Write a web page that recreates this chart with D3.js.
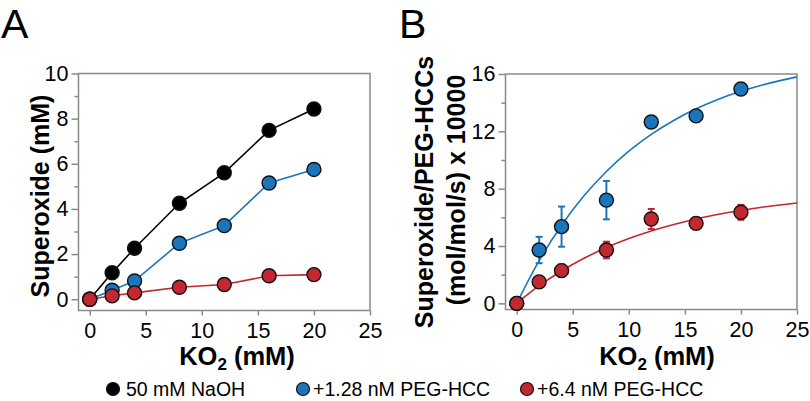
<!DOCTYPE html>
<html><head><meta charset="utf-8">
<script src="https://cdn.jsdelivr.net/npm/d3@7"></script>
<style>
html,body{margin:0;padding:0;background:#fff;}
svg{display:block;font-family:"Liberation Sans",Arial,Helvetica,sans-serif;}
</style></head><body>
<svg id="chart" width="810" height="401"></svg>
<script>
// ---- data ----
const xKO2 = [0, 2, 4, 8, 12, 16, 20];
const naohA = [0, 1.17, 2.26, 4.25, 5.6, 7.48, 8.43];
const peg128A = [0, 0.4, 0.81, 2.48, 3.26, 5.15, 5.75];
const peg64A = [0, 0.15, 0.28, 0.53, 0.65, 1.04, 1.09];
const peg128B = [0, 3.72, 5.35, 7.2, 12.65, 13.08, 14.95];
const peg128Err = [0, 0.92, 1.4, 1.34, 0.3, 0.3, 0.3];
const peg64B = [0, 1.5, 2.28, 3.72, 5.88, 5.58, 6.35];
const peg64Err = [0, 0.3, 0.43, 0.58, 0.7, 0.4, 0.52];
const fitX = [0, 2, 4, 6, 8, 10, 12, 14, 16, 18, 20, 22, 25];
const fit128 = [0, 2.98, 5.45, 7.50, 9.20, 10.62, 11.79, 12.76, 13.57, 14.24, 14.79, 15.25, 15.80];
const fit64 = [0, 1.23, 2.26, 3.14, 3.89, 4.52, 5.05, 5.50, 5.89, 6.21, 6.48, 6.72, 7.00];
const xTicks = [0, 5, 10, 15, 20, 25];
const yTicksA = [0, 2, 4, 6, 8, 10];
const yTicksB = [0, 4, 8, 12, 16];
const legendLabels = ["50 mM NaOH", "+1.28 nM PEG-HCC", "+6.4 nM PEG-HCC"];

const BLACK = "#000000", BLUE = "#1b75bb", RED = "#c3272f", GRAY = "#8a8a8a";

const svg = d3.select("#chart");

function panel(cfg) {
  const g = svg.append("g");
  const x = d3.scaleLinear().domain([-1, 25]).range([cfg.left, cfg.right]);
  const y = d3.scaleLinear().domain(cfg.yDomain).range([cfg.bottom, cfg.top]);

  g.append("rect").attr("x", cfg.left).attr("y", cfg.top)
    .attr("width", cfg.right - cfg.left).attr("height", cfg.bottom - cfg.top)
    .attr("fill", "none").attr("stroke", GRAY).attr("stroke-width", 1.5);

  const yAx = g.append("g").attr("transform", `translate(${cfg.left},0)`)
    .call(d3.axisLeft(y).tickValues(cfg.yTicks).tickSize(7).tickPadding(3).tickFormat(d3.format("d")));
  const minor = [];
  for (let i = 0; i < cfg.yTicks.length - 1; i++) minor.push((cfg.yTicks[i] + cfg.yTicks[i + 1]) / 2);
  g.append("g").attr("transform", `translate(${cfg.left},0)`)
    .call(d3.axisLeft(y).tickValues(minor).tickSize(4).tickFormat(""))
    .call(a => a.select(".domain").remove())
    .selectAll("line").attr("stroke", GRAY).attr("stroke-width", 1.5);

  const xAx = g.append("g").attr("transform", `translate(0,${cfg.bottom})`)
    .call(d3.axisBottom(x).tickValues(xTicks).tickSize(5).tickPadding(7).tickFormat(d3.format("d")));

  [yAx, xAx].forEach(a => {
    a.select(".domain").remove();
    a.selectAll("line").attr("stroke", GRAY).attr("stroke-width", 1.5);
    a.selectAll("text").attr("font-size", 21.5).attr("fill", "#000")
      .attr("font-family", '"Liberation Sans",Arial,sans-serif');
  });

  const xl = g.append("text").attr("x", cfg.xLabelX).attr("y", 365)
    .attr("text-anchor", "middle").attr("font-size", 25.5).attr("font-weight", "bold");
  xl.append("tspan").text("KO");
  xl.append("tspan").text("2").attr("font-size", 17).attr("dy", 5);
  xl.append("tspan").text(" (mM)").attr("dy", -5);

  g.append("text").attr("x", cfg.letterX).attr("y", 38).attr("font-size", 41).text(cfg.letter);

  return {g, x, y};
}

// ---------- Panel A ----------
const A = panel({left: 78.5, right: 370, top: 73.5, bottom: 310.5, yDomain: [-0.5, 10],
  yTicks: yTicksA, xLabelX: 237, letter: "A", letterX: 1});
A.g.append("text").attr("transform", "translate(49,196) rotate(-90)")
  .attr("text-anchor", "middle").attr("font-size", 25).attr("font-weight", "bold")
  .text("Superoxide (mM)");

const seriesA = [[naohA, BLACK], [peg128A, BLUE], [peg64A, RED]];
const lineGen = (sx, sy) => d3.line().x(d => sx(d[0])).y(d => sy(d[1]));
seriesA.forEach(([vals, col]) => {
  const pts = xKO2.map((xv, i) => [xv, vals[i]]);
  A.g.append("path").datum(pts).attr("d", lineGen(A.x, A.y))
    .attr("fill", "none").attr("stroke", col).attr("stroke-width", 1.6);
});
seriesA.forEach(([vals, col]) => {
  const pts = xKO2.map((xv, i) => [xv, vals[i]]);
  A.g.selectAll(null).data(pts).join("circle")
    .attr("cx", d => A.x(d[0])).attr("cy", d => A.y(d[1])).attr("r", 7)
    .attr("fill", col).attr("stroke", "#111").attr("stroke-width", 1.4);
});

// ---------- Panel B ----------
const B = panel({left: 505.5, right: 797, top: 74, bottom: 309.5, yDomain: [-0.43, 16],
  yTicks: yTicksB, xLabelX: 657, letter: "B", letterX: 399});
const bl = B.g.append("text").attr("transform", "rotate(-90)")
  .attr("text-anchor", "middle").attr("font-size", 25).attr("font-weight", "bold");
bl.append("tspan").attr("x", -192).attr("y", 433).text("Superoxide/PEG-HCCs");
bl.append("tspan").attr("x", -190).attr("y", 465).text("(mol/mol/s) x 10000");

const fitLine = d3.line().x(d => B.x(d[0])).y(d => B.y(d[1])).curve(d3.curveMonotoneX);
[[fit128, BLUE], [fit64, RED]].forEach(([vals, col]) => {
  B.g.append("path").datum(fitX.map((xv, i) => [xv, vals[i]])).attr("d", fitLine)
    .attr("fill", "none").attr("stroke", col).attr("stroke-width", 1.6);
});

const seriesB = [[peg128B, peg128Err, BLUE], [peg64B, peg64Err, RED]];
seriesB.forEach(([vals, errs, col]) => {
  const pts = xKO2.map((xv, i) => ({x: xv, y: vals[i], e: errs[i]})).filter(d => d.e > 0);
  const eg = B.g.append("g").attr("stroke", col).attr("stroke-width", 2);
  eg.selectAll(null).data(pts).join("line")
    .attr("x1", d => B.x(d.x)).attr("x2", d => B.x(d.x))
    .attr("y1", d => B.y(d.y - d.e)).attr("y2", d => B.y(d.y + d.e));
  eg.selectAll(null).data(pts.flatMap(d => [[d.x, d.y - d.e], [d.x, d.y + d.e]])).join("line")
    .attr("x1", d => B.x(d[0]) - 3.5).attr("x2", d => B.x(d[0]) + 3.5)
    .attr("y1", d => B.y(d[1])).attr("y2", d => B.y(d[1]));
});
seriesB.forEach(([vals, errs, col]) => {
  B.g.selectAll(null).data(xKO2.map((xv, i) => [xv, vals[i]])).join("circle")
    .attr("cx", d => B.x(d[0])).attr("cy", d => B.y(d[1])).attr("r", 7)
    .attr("fill", col).attr("stroke", "#111").attr("stroke-width", 1.4);
});

// ---------- Legend ----------
const legendPos = [{cx: 113, tx: 126}, {cx: 303, tx: 313}, {cx: 527, tx: 537}];
const legendCols = [BLACK, BLUE, RED];
const lg = svg.append("g");
legendLabels.forEach((lab, i) => {
  lg.append("circle").attr("cx", legendPos[i].cx).attr("cy", 389).attr("r", 6.5)
    .attr("fill", legendCols[i]).attr("stroke", "#111").attr("stroke-width", 1.2);
  lg.append("text").attr("x", legendPos[i].tx).attr("y", 395.5).attr("font-size", 19.5).text(lab);
});
</script>
</body></html>
